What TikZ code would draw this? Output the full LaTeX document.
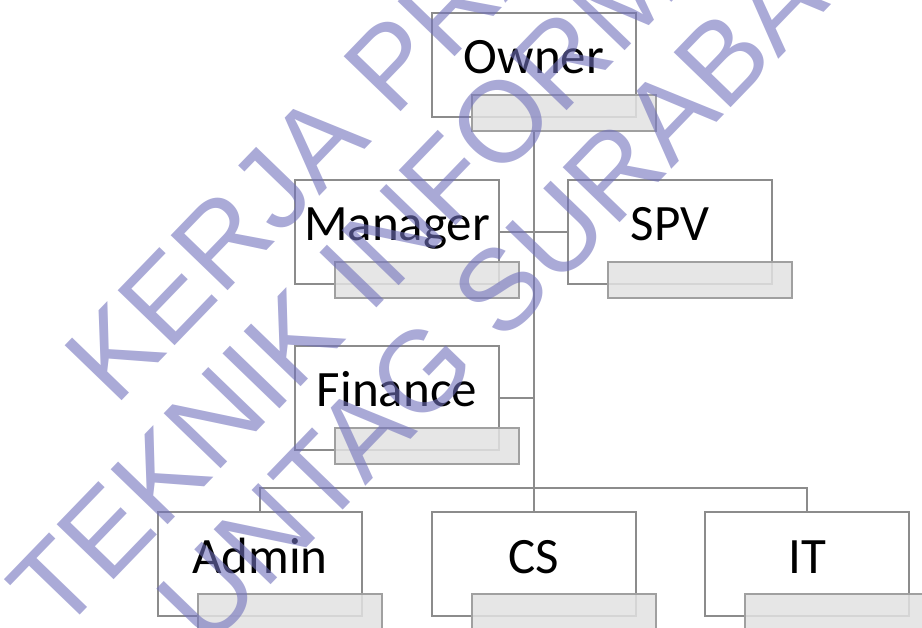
\documentclass[tikz,border=0pt]{standalone}
\usepackage{fontspec}
\setmainfont{Carlito}
\newfontfamily\wmfont{Liberation Sans}
\definecolor{boxline}{RGB}{140,140,140}
\definecolor{barfill}{RGB}{226,226,226}
\definecolor{barline}{RGB}{160,160,160}
\definecolor{wmcol}{RGB}{113,113,188}
\begin{document}
\begin{tikzpicture}[x=1pt,y=-1pt,
 orgbox/.style={draw=boxline,line width=1.6pt,minimum width=204pt,minimum height=104pt,inner sep=0pt,fill=white},
 orgbar/.style={draw=barline,line width=1.6pt,fill=barfill,fill opacity=0.85,minimum width=184pt,minimum height=36pt,inner sep=0pt},
 orgtext/.style={anchor=base,font=\fontsize{51}{60}\selectfont,inner sep=0pt},
 link/.style={draw=boxline,line width=1.6pt},
 wm/.style={anchor=base west,rotate=46,font=\wmfont\fontsize{115}{130}\selectfont,text=wmcol,opacity=0.6,inner sep=0pt}]
\useasboundingbox (0,0) rectangle (922,628);
% boxes
\node[orgbox] (owner) at (534,65) {};
\node[orgbox] (manager) at (397,232) {};
\node[orgbox] (spv) at (670,232) {};
\node[orgbox] (finance) at (397,398) {};
\node[orgbox] (admin) at (260,564) {};
\node[orgbox] (cs) at (534,564) {};
\node[orgbox] (it) at (807,564) {};
% bars
\node[orgbar] (ownerbar) at (564,113) {};
\node[orgbar] (managerbar) at (427,280) {};
\node[orgbar] (spvbar) at (700,280) {};
\node[orgbar] (financebar) at (427,446) {};
\node[orgbar] (adminbar) at (290,612) {};
\node[orgbar] (csbar) at (564,612) {};
\node[orgbar] (itbar) at (837,612) {};
% connectors
\coordinate (bus) at (534,488);
\coordinate (fin) at (534,398);
\draw[link] (owner.south |- ownerbar.south) -- (cs.north);
\draw[link] (manager.east) -- (spv.west);
\draw[link] (finance.east) -- (fin);
\draw[link] (admin.north) |- (bus) -| (it.north);
% texts
\node[orgtext] (ownert) at (534,74) {Owner};
\node[orgtext] (managert) at (397,241) {Manager};
\node[orgtext] (spvt) at (670,241) {SPV};
\node[orgtext] (financet) at (397,407) {Finance};
\node[orgtext] (admint) at (260,573) {Admin};
\node[orgtext] (cst) at (534,573) {CS};
\node[orgtext] (itt) at (807,573) {IT};
% watermark
\node[wm] (wm1) at (115,408) {KERJA PRAKTEK};
\node[wm] (wm2) at (59,637) {TEKNIK INFORMATIKA};
\node[wm] (wm3) at (207,651) {UNTAG SURABAYA};
\end{tikzpicture}
\end{document}
